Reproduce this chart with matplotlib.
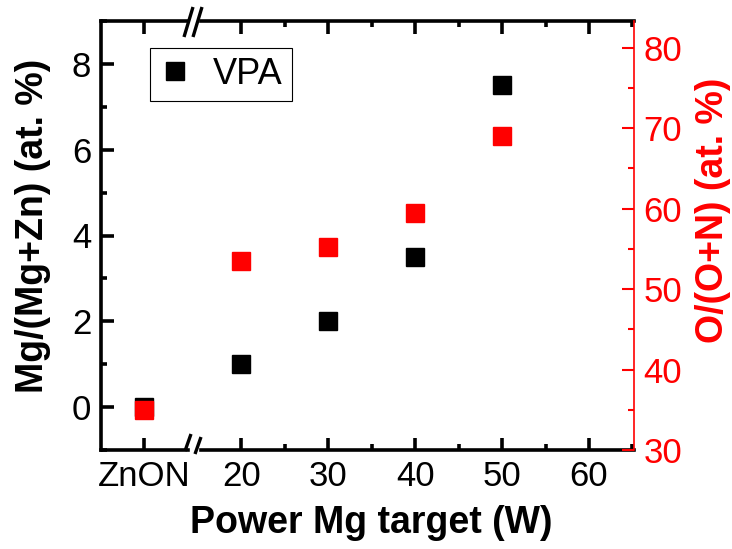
import matplotlib
matplotlib.use("Agg")
import matplotlib.pyplot as plt
from matplotlib.lines import Line2D
from matplotlib.ticker import MultipleLocator

# ---- data ----
ref_label = "ZnON"
ref_mg = [0.0]
ref_o = [35.0]
power = [20, 30, 40, 50]
mg_ratio = [1.0, 2.0, 3.5, 7.5]
o_ratio = [53.5, 55.2, 59.4, 69.0]
x_ticks = [20, 30, 40, 50, 60]
left_ticks = [0, 2, 4, 6, 8]
right_ticks = [30, 40, 50, 60, 70, 80]
legend_label = "VPA"

plt.rcParams['font.family'] = ['Liberation Sans', 'DejaVu Sans']
spw = 2.6
fs = 25
lfs = 27
MAJ, MIN = 9, 4.5
plt.rcParams.update({
    'xtick.direction': 'in', 'ytick.direction': 'in',
    'xtick.major.size': MAJ, 'xtick.minor.size': MIN,
    'ytick.major.size': MAJ, 'ytick.minor.size': MIN,
    'xtick.major.width': spw, 'xtick.minor.width': spw,
    'ytick.major.width': spw, 'ytick.minor.width': spw,
    'xtick.major.pad': 7, 'ytick.major.pad': 7,
    'xtick.labelsize': fs, 'ytick.labelsize': fs,
    'axes.linewidth': spw,
    'axes.axisbelow': False,
})

W, H = 732, 549
fig = plt.figure(figsize=(W / 100, H / 100), dpi=100)

def fx(x):
    return x / W

def fy(y):
    return 1 - y / H

top, bot = 21, 450
axL = fig.add_axes([fx(101), fy(bot), (188 - 101) / W, (bot - top) / H])
axR = fig.add_axes([fx(201), fy(bot), (634 - 201) / W, (bot - top) / H])
twL = axL.twinx()
twR = axR.twinx()

mk = 's'
ms = 13
mew = 1.0

# left segment
axL.set_xlim(-1, 1.03)
axL.set_ylim(-1, 9)
axL.set_xticks([0])
axL.set_xticklabels([ref_label])
axL.set_yticks(left_ticks)
axL.yaxis.set_minor_locator(MultipleLocator(1))
axL.spines['right'].set_visible(False)
axL.tick_params(axis='x', which='both', top=True)
axL.tick_params(axis='y', which='both', left=True, right=False,
                labelright=False)
axL.plot([0] * len(ref_mg), ref_mg, linestyle='none', marker=mk, ms=ms,
         mew=mew, color='black', zorder=3)

twL.set_ylim(30, 83.3)
twL.set_yticks([])
for s in twL.spines.values():
    s.set_visible(False)
twL.plot([0] * len(ref_o), ref_o, linestyle='none', marker=mk, ms=ms,
         mew=mew, color='red', zorder=3)

# right segment
axR.set_xlim(15.34, 65.18)
axR.set_ylim(-1, 9)
axR.set_xticks(x_ticks)
axR.xaxis.set_minor_locator(MultipleLocator(5))
axR.spines['left'].set_visible(False)
axR.spines['right'].set_visible(False)
axR.tick_params(axis='y', which='both', left=False, right=False,
                labelleft=False, labelright=False)
axR.tick_params(axis='x', which='both', top=True)
axR.plot(power, mg_ratio, linestyle='none', marker=mk, ms=ms, mew=mew,
         color='black', zorder=3)

twR.set_ylim(30, 83.3)
twR.set_yticks(right_ticks)
twR.yaxis.set_minor_locator(MultipleLocator(5))
for s in ['left', 'top', 'bottom']:
    twR.spines[s].set_visible(False)
twR.spines['right'].set_color('red')
twR.spines['right'].set_linewidth(1.2)
twR.tick_params(axis='y', which='both', colors='red', width=1.5)
twR.plot(power, o_ratio, linestyle='none', marker=mk, ms=ms, mew=mew,
         color='red', zorder=3)

for ax in (axL, axR):
    ax.xaxis.set_zorder(4)
    ax.yaxis.set_zorder(4)

# break marks
def brk(x0, y0, x1, y1):
    fig.add_artist(Line2D([fx(x0), fx(x1)], [fy(y0), fy(y1)],
                          color='black', lw=2.4, transform=fig.transFigure,
                          solid_capstyle='butt'))

brk(184, 37, 193, 7)
brk(193, 37, 202, 7)
brk(185, 451, 191, 434)
brk(195, 454, 201, 437)

# labels
fig.text(fx(371), fy(523), "Power Mg target (W)", ha='center', va='center',
         fontsize=lfs, fontweight='bold')
fig.text(fx(33), fy(226), "Mg/(Mg+Zn) (at. %)", ha='center', va='center',
         rotation=90, fontsize=lfs, fontweight='bold')
fig.text(fx(713), fy(210), "O/(O+N) (at. %)", ha='center', va='center',
         rotation=90, fontsize=lfs, fontweight='bold', color='red')

# legend
h = Line2D([], [], linestyle='none', marker=mk, ms=ms, mew=mew, color='black')
leg = fig.legend([h], [legend_label], loc='upper left',
                 bbox_to_anchor=(fx(150), fy(48)), fontsize=26,
                 frameon=True, fancybox=False, framealpha=1,
                 edgecolor='black', borderpad=0.25, handlelength=0.9,
                 handletextpad=0.6, borderaxespad=0)
leg.get_frame().set_linewidth(0.8)

fig.savefig("out.png", dpi=100)
